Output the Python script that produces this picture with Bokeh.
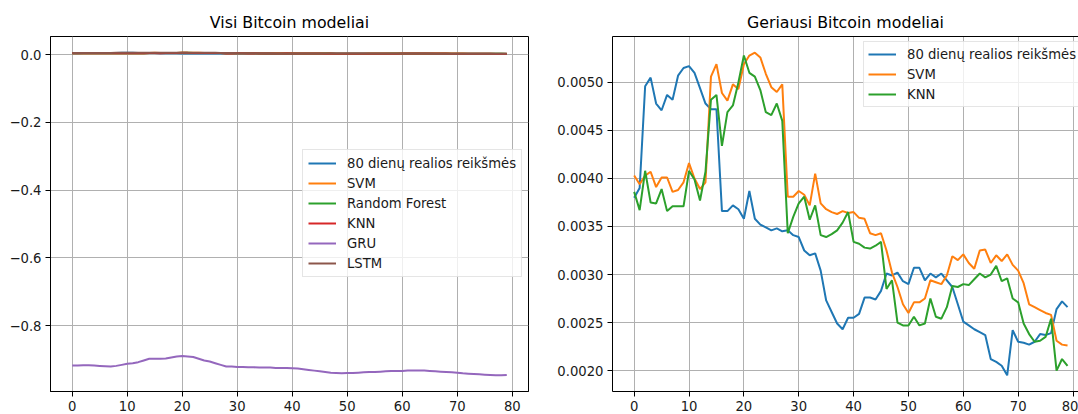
from bokeh.plotting import figure
from bokeh.models import (Legend, LegendItem, FixedTicker, LinearAxis, Range1d,
                          NumeralTickFormatter)
from bokeh.layouts import row
from bokeh.embed import file_html
from bokeh.resources import INLINE

days = list(range(80))

real = [0.00380, 0.00390, 0.00496, 0.00505, 0.00478, 0.00471, 0.00487, 0.00482, 0.00507, 0.00515,
        0.00517, 0.00510, 0.00494, 0.00478, 0.00472, 0.00472, 0.00366, 0.00366, 0.00372, 0.00368,
        0.00358, 0.00387, 0.00358, 0.00352, 0.00349, 0.00346, 0.00348, 0.00345, 0.00346, 0.00341,
        0.00339, 0.00325, 0.00320, 0.00322, 0.00304, 0.00273, 0.00261, 0.00249, 0.00243, 0.00255,
        0.00255, 0.00259, 0.00276, 0.00276, 0.00274, 0.00283, 0.00301, 0.00299, 0.00302, 0.00293,
        0.00290, 0.00307, 0.00307, 0.00294, 0.00301, 0.00297, 0.00301, 0.00294, 0.00287, 0.00269,
        0.00251, 0.00247, 0.00243, 0.00240, 0.00237, 0.00212, 0.00209, 0.00205, 0.00195, 0.00242,
        0.00230, 0.00229, 0.00227, 0.00230, 0.00238, 0.00237, 0.00239, 0.00264, 0.00272, 0.00266]

svm = [0.00403, 0.00394, 0.00403, 0.00407, 0.00391, 0.00401, 0.00401, 0.00386, 0.00388, 0.00396,
       0.00416, 0.00400, 0.00389, 0.00396, 0.00506, 0.00519, 0.00489, 0.00481, 0.00498, 0.00493,
       0.00519, 0.00528, 0.00531, 0.00526, 0.00509, 0.00495, 0.00490, 0.00498, 0.00381, 0.00381,
       0.00387, 0.00383, 0.00372, 0.00405, 0.00374, 0.00368, 0.00365, 0.00363, 0.00366, 0.00364,
       0.00365, 0.00359, 0.00358, 0.00343, 0.00341, 0.00343, 0.00325, 0.00302, 0.00287, 0.00269,
       0.00260, 0.00271, 0.00271, 0.00275, 0.00294, 0.00292, 0.00290, 0.00299, 0.00319, 0.00315,
       0.00321, 0.00312, 0.00306, 0.00325, 0.00326, 0.00312, 0.00320, 0.00314, 0.00321, 0.00310,
       0.00304, 0.00291, 0.00269, 0.00266, 0.00263, 0.00260, 0.00258, 0.00231, 0.00227, 0.00226]

random_forest = [0.0039, 0.0038, 0.0040, 0.0039, 0.0038, 0.0039, 0.0038, 0.0038, 0.0039, 0.0039,
                 0.0041, 0.0040, 0.0039, 0.0040, 0.0047, 0.0048, 0.0045, 0.0047, 0.0048, 0.0049,
                 0.0051, 0.0051, 0.0050, 0.0049, 0.0048, 0.0047, 0.0047, 0.0046, 0.0037, 0.0037,
                 0.0038, 0.0038, 0.0037, 0.0038, 0.0035, 0.0035, 0.0035, 0.0035, 0.0036, 0.0036,
                 0.0034, 0.0034, 0.0034, 0.0033, 0.0033, 0.0033, 0.0030, 0.0029, 0.0026, 0.0025,
                 0.0025, 0.0026, 0.0026, 0.0026, 0.0028, 0.0027, 0.0027, 0.0028, 0.0029, 0.0029,
                 0.0030, 0.0030, 0.0030, 0.0030, 0.0030, 0.0031, 0.0031, 0.0030, 0.0030, 0.0028,
                 0.0028, 0.0026, 0.0025, 0.0024, 0.0024, 0.0024, 0.0025, 0.0022, 0.0022, 0.0021]

knn = [0.00386, 0.00367, 0.00408, 0.00375, 0.00374, 0.00389, 0.00366, 0.00371, 0.00371, 0.00371,
       0.00408, 0.00399, 0.00377, 0.00407, 0.00482, 0.00487, 0.00434, 0.00469, 0.00476, 0.00500,
       0.00528, 0.00510, 0.00506, 0.00492, 0.00469, 0.00466, 0.00478, 0.00460, 0.00343, 0.00360,
       0.00374, 0.00381, 0.00357, 0.00372, 0.00341, 0.00339, 0.00342, 0.00346, 0.00354, 0.00365,
       0.00334, 0.00332, 0.00328, 0.00327, 0.00330, 0.00334, 0.00285, 0.00294, 0.00250, 0.00247,
       0.00247, 0.00256, 0.00247, 0.00249, 0.00275, 0.00256, 0.00254, 0.00266, 0.00288, 0.00287,
       0.00290, 0.00289, 0.00295, 0.00301, 0.00297, 0.00300, 0.00309, 0.00293, 0.00296, 0.00275,
       0.00271, 0.00249, 0.00238, 0.00230, 0.00231, 0.00235, 0.00254, 0.00200, 0.00212, 0.00205]

gru = [-0.918, -0.918, -0.917, -0.917, -0.918, -0.919, -0.920, -0.921, -0.919, -0.916,
       -0.913, -0.911, -0.908, -0.903, -0.898, -0.898, -0.898, -0.897, -0.894, -0.891,
       -0.890, -0.891, -0.893, -0.898, -0.903, -0.906, -0.911, -0.916, -0.921, -0.921,
       -0.922, -0.922, -0.923, -0.923, -0.924, -0.924, -0.924, -0.925, -0.925, -0.925,
       -0.926, -0.927, -0.929, -0.931, -0.933, -0.935, -0.937, -0.939, -0.940, -0.941,
       -0.940, -0.940, -0.939, -0.938, -0.937, -0.937, -0.936, -0.935, -0.934, -0.934,
       -0.934, -0.933, -0.933, -0.933, -0.933, -0.934, -0.935, -0.936, -0.937, -0.938,
       -0.939, -0.941, -0.942, -0.943, -0.944, -0.945, -0.946, -0.947, -0.947, -0.946]

lstm = [0.0046, 0.0047, 0.0048, 0.0049, 0.0050, 0.0050, 0.0050, 0.0050, 0.0051, 0.0051,
        0.0052, 0.0052, 0.0052, 0.0051, 0.0051, 0.0052, 0.0053, 0.0054, 0.0055, 0.0056,
        0.0057, 0.0058, 0.0058, 0.0057, 0.0056, 0.0054, 0.0052, 0.0050, 0.0047, 0.0045,
        0.0043, 0.0042, 0.0041, 0.0040, 0.0039, 0.0038, 0.0037, 0.0036, 0.0035, 0.0035,
        0.0035, 0.0035, 0.0034, 0.0034, 0.0033, 0.0033, 0.0032, 0.0032, 0.0031, 0.0031,
        0.0030, 0.0030, 0.0030, 0.0030, 0.0030, 0.0030, 0.0030, 0.0031, 0.0031, 0.0031,
        0.0031, 0.0031, 0.0030, 0.0030, 0.0029, 0.0029, 0.0028, 0.0028, 0.0027, 0.0027,
        0.0027, 0.0026, 0.0026, 0.0025, 0.0025, 0.0025, 0.0024, 0.0024, 0.0024, 0.0024]

x_ticks = [0, 10, 20, 30, 40, 50, 60, 70, 80]
left_y_ticks = [-0.8, -0.6, -0.4, -0.2, 0.0]
left_y_labels = ["\u22120.8", "\u22120.6", "\u22120.4", "\u22120.2", "0.0"]
right_y_ticks = [0.0020, 0.0025, 0.0030, 0.0035, 0.0040, 0.0045, 0.0050]

names_all = ["80 dienų realios reikšmės", "SVM", "Random Forest", "KNN", "GRU", "LSTM"]
names_best = ["80 dienų realios reikšmės", "SVM", "KNN"]
colors = ["#1f77b4", "#ff7f0e", "#2ca02c", "#d62728", "#9467bd", "#8c564b"]

FONT = "DejaVu Sans"
TICK_SIZE = "13.2px"
LW = 2


def padded(vals, frac=0.05):
    lo, hi = min(vals), max(vals)
    m = (hi - lo) * frac
    return lo - m, hi + m


def style(p):
    p.background_fill_color = "white"
    p.border_fill_color = "white"
    p.title.text_font = FONT
    p.title.text_font_size = "15.8px"
    p.title.text_font_style = "normal"
    p.title.text_color = "black"
    p.title.align = "center"
    for ax in p.xaxis + p.yaxis:
        ax.major_label_text_font = FONT
        ax.major_label_text_font_size = TICK_SIZE
        ax.major_label_text_color = "#1a1a1a"
        ax.major_tick_out = 5
        ax.major_tick_in = 0
        ax.minor_tick_out = 0
        ax.minor_tick_in = 0
        ax.major_tick_line_color = "black"
        ax.axis_line_color = "black"
        ax.major_label_standoff = 4
    for g in p.xgrid + p.ygrid:
        g.grid_line_color = "#b0b0b0"
        g.grid_line_width = 1
    p.xaxis.ticker = FixedTicker(ticks=x_ticks)


def make_legend(p, renderers, labels, loc, pad):
    items = [LegendItem(label=l, renderers=[r]) for l, r in zip(labels, renderers)]
    lg = Legend(items=items, location=loc, margin=0, padding=pad, spacing=4,
                glyph_width=28, glyph_height=16, label_height=16, label_standoff=11,
                label_text_font=FONT, label_text_font_size=TICK_SIZE,
                label_text_color="#1a1a1a",
                border_line_color="#cccccc", border_line_width=1,
                background_fill_color="white", background_fill_alpha=0.8)
    p.add_layout(lg)


# ---- left: all models
all_series = [real, svm, random_forest, knn, gru, lstm]
every = [v for s in all_series for v in s]
ly0, ly1 = padded(every)
p1 = figure(width=554, height=414, output_backend="svg", toolbar_location=None,
            title="Visi Bitcoin modeliai",
            x_range=Range1d(*padded(days)), y_range=Range1d(ly0, ly1),
            min_border_left=50, min_border_right=26, min_border_top=35,
            min_border_bottom=23)
p1.outline_line_color = "black"
p1.outline_line_width = 1
style(p1)
p1.yaxis.ticker = FixedTicker(ticks=left_y_ticks)
p1.yaxis.major_label_overrides = dict(zip(left_y_ticks, left_y_labels))
rs1 = []
for s, c in zip(all_series, colors):
    rs1.append(p1.line(days, s, line_color=c, line_width=LW))
make_legend(p1, rs1, names_all, (252, 114), 5)

# ---- right: best models
best_series = [real, svm, knn]
best_vals = [v for s in best_series for v in s]
ry0, ry1 = padded(best_vals)
x_lo, x_hi = padded(days)
p2 = figure(width=524, height=414, output_backend="svg", toolbar_location=None,
            title="Geriausi Bitcoin modeliai",
            x_range=Range1d(x_lo, 81.0), y_range=Range1d(ry0, ry1),
            min_border_left=57, min_border_right=0, min_border_top=36,
            min_border_bottom=22)
p2.outline_line_color = None
style(p2)
p2.yaxis.ticker = FixedTicker(ticks=right_y_ticks)
p2.yaxis.formatter = NumeralTickFormatter(format="0.0000")
top = LinearAxis(ticker=FixedTicker(ticks=[]), major_tick_out=0, major_tick_in=0,
                 minor_tick_out=0, minor_tick_in=0, major_label_text_font_size="0px",
                 axis_line_color="black", major_label_standoff=0)
p2.add_layout(top, "above")
rs2 = []
for s, c in zip(best_series, [colors[0], colors[1], colors[2]]):
    rs2.append(p2.line(days, s, line_color=c, line_width=LW))
make_legend(p2, rs2, names_best, (251, 284), 4)

layout = row(p1, p2)
open("out.html", "w").write(file_html(layout, INLINE))
